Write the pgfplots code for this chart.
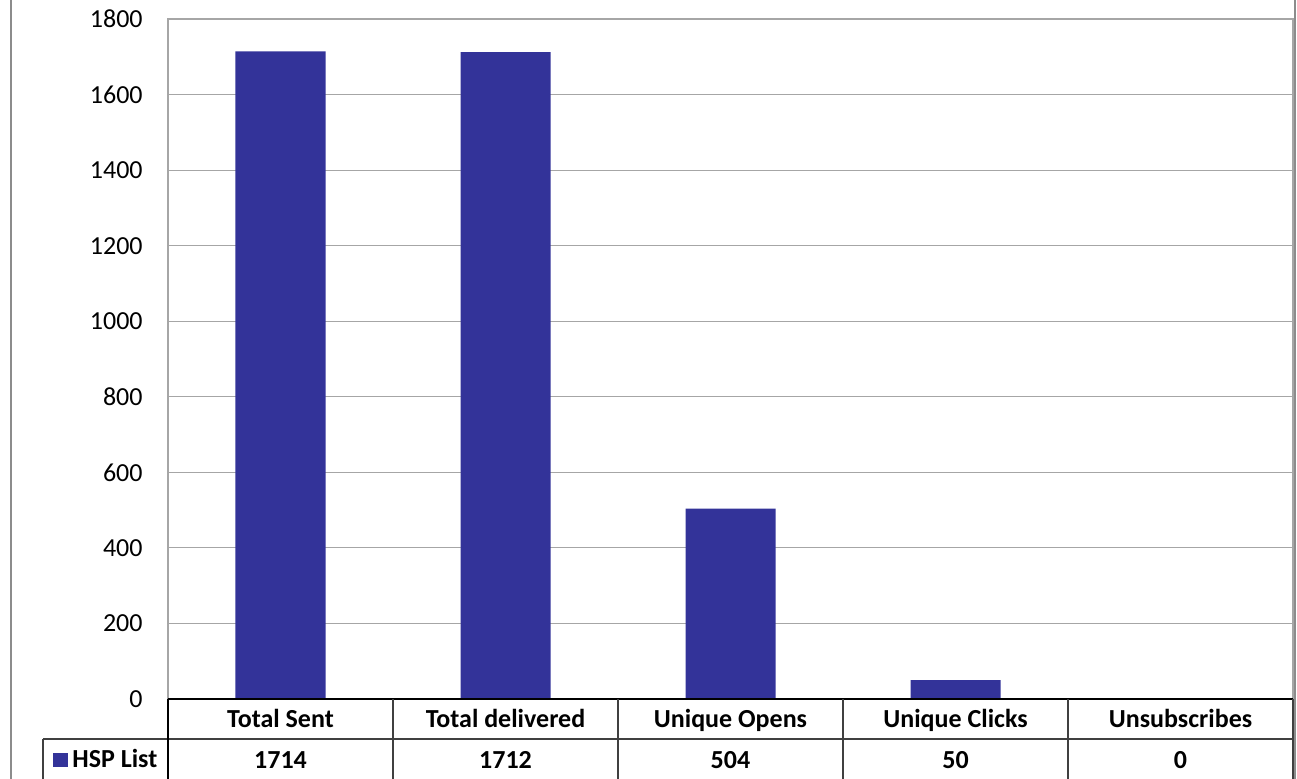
\documentclass[border=0pt]{standalone}
\usepackage{pgfplots}
\pgfplotsset{compat=1.18}
\usepackage{fontspec}
\setmainfont{Carlito}
\definecolor{barblue}{RGB}{51,51,153}
\definecolor{gridgray}{RGB}{166,166,166}
\definecolor{bordergray}{RGB}{140,140,140}
\begin{document}
\begin{tikzpicture}
\begin{axis}[
  at={(0pt,0pt)}, anchor=south west,
  scale only axis,
  width=562.5pt, height=340pt,
  xmin=-0.5, xmax=4.5,
  ymin=0, ymax=1800,
  ytick distance=200,
  ymajorgrids,
  grid style={gridgray, line width=0.6pt},
  axis line style={gridgray, line width=0.6pt},
  xtick={0,1,2,3,4},
  xticklabels={Total Sent,Total delivered,Unique Opens,Unique Clicks,Unsubscribes},
  major tick length=0pt,
  tick style={draw=none},
  /pgf/number format/assume math mode=true,
  /pgf/number format/1000 sep={},
  tick label style={font=\fontsize{13pt}{15pt}\selectfont},
  yticklabel style={anchor=east, inner sep=0pt, xshift=-12.5pt},
  xticklabel style={anchor=base, inner sep=0pt, yshift=-14pt, font=\fontsize{13pt}{15pt}\selectfont\bfseries},
  extra x ticks={0,1,2,3,4},
  extra x tick labels={1714,1712,504,50,0},
  extra x tick style={grid=none, xticklabel style={yshift=-20.5pt}},
  clip=false,
  legend style={at={(-0.1022,-0.0897)}, anchor=west, draw=none, fill=none,
    font=\fontsize{13pt}{15pt}\selectfont\bfseries, inner sep=0pt,
    legend cell align=left},
  legend image code/.code={\fill[barblue] (0pt,-3.5pt) rectangle (7.5pt,3.5pt);},
]
\addplot[ybar, bar width=45pt, fill=barblue, draw=none] coordinates {
  (0,1714) (1,1712) (2,504) (3,50) (4,0)
};
\addlegendentry{HSP List}
\end{axis}
% data table lines
\draw[black, line width=1pt] (0pt,0pt) -- (562.5pt,0pt);
\draw[black!75, line width=0.8pt] (-62.5pt,-20pt) -- (562.5pt,-20pt);
\draw[black, line width=0.9pt] (0pt,0pt) -- (0pt,-45pt);
\foreach \k in {1,2,3,4}{
  \draw[black!75, line width=0.8pt] (\k*112.5pt,0pt) -- (\k*112.5pt,-45pt);
}
\draw[black!75, line width=0.8pt] (562.5pt,0pt) -- (562.5pt,-45pt);
\draw[black!75, line width=0.8pt] (-62.5pt,-20pt) -- (-62.5pt,-45pt);
% chart border
\draw[bordergray, line width=0.8pt] (-78.5pt,-45pt) -- (-78.5pt,355pt);
\draw[bordergray, line width=0.8pt] (563.5pt,-45pt) -- (563.5pt,355pt);
\pgfresetboundingbox
\path[use as bounding box] (-84pt,-39.5pt) rectangle (564.5pt,349.5pt);
\end{tikzpicture}
\end{document}
